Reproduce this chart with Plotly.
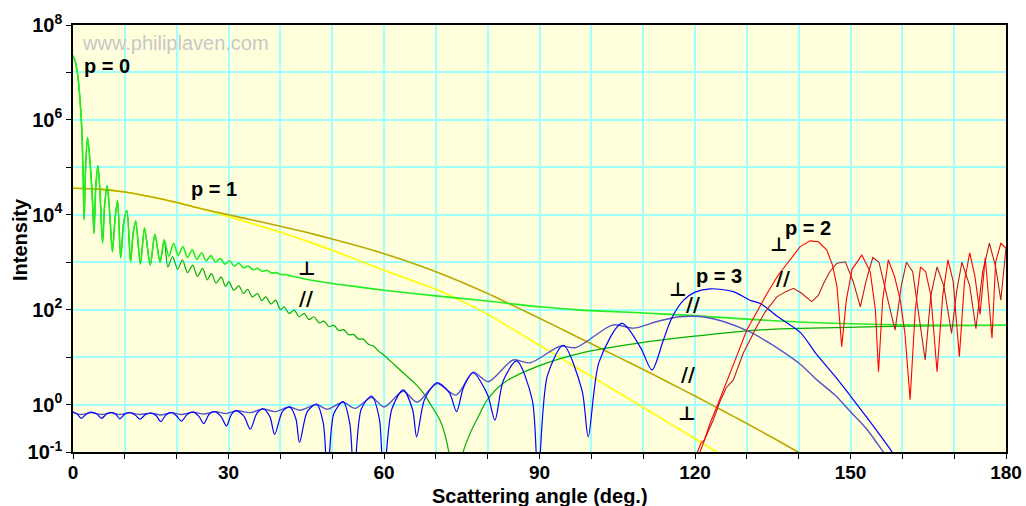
import plotly.graph_objects as go

# ---------------- data (angle in degrees, log10 of intensity) ----------------
p0_common_ang = [0, 0.5, 0.9, 1.3, 1.7, 2.0, 2.15, 2.4, 2.8, 3.3, 3.8, 4.05, 4.4, 4.8, 5.2, 5.7, 6.1, 6.6,
                 7.1, 7.6, 8.1, 8.6, 9.2, 9.8, 10.4, 11.1, 11.6, 12.1, 13.0, 13.8, 14.9, 15.8, 16.8, 17.6]
p0_common_log = [7.35, 7.2, 6.95, 6.5, 5.8, 4.6, 3.9, 4.9, 5.63, 5.1, 4.2, 3.61, 4.6, 5.03, 4.5, 3.40, 4.2, 4.61,
                 4.0, 3.22, 3.9, 4.30, 3.09, 3.85, 4.09, 3.01, 3.6, 3.87, 2.96, 3.72, 2.94, 3.59, 3.0, 3.47]

p0_perp_ang = [18.5, 19.4, 20.3, 21.2, 22.1, 23.0, 23.9, 24.8, 25.7, 26.6, 27.5, 28.4, 29.3, 30.2, 31.1, 32.0,
               32.9, 33.8, 34.7, 35.6, 36.5, 37.4, 38.3, 39.2, 40.1, 41, 42, 43, 45, 50, 55, 60, 70, 78.5, 90,
               98, 110, 119, 130, 145, 160, 180]
p0_perp_log = [3.12, 3.40, 3.14, 3.33, 3.10, 3.26, 3.06, 3.20, 3.03, 3.14, 3.00, 3.08, 2.96, 3.03, 2.92, 2.98,
               2.88, 2.92, 2.84, 2.87, 2.81, 2.83, 2.77, 2.78, 2.74, 2.74, 2.71, 2.69, 2.64, 2.55, 2.48, 2.41,
               2.29, 2.20, 2.06, 1.99, 1.93, 1.88, 1.80, 1.72, 1.68, 1.67]

p0_par_ang = [18.3, 19.2, 20.2, 21.1, 22.1, 23.1, 24.0, 25.0, 25.9, 26.7, 27.6, 28.6, 29.4, 30.1, 31.0, 32.0,
              32.9, 33.7, 34.6, 35.6, 36.4, 37.2, 38.2, 39.1, 40.0, 40.7, 41.7, 42.7, 43.6, 44.6, 45.5, 46.5,
              47.5, 48.4, 49.4, 50.3, 51.3, 52.2, 53.2, 54.1, 55.1, 56, 57, 58, 59, 60, 62, 64, 66, 67.6, 69,
              70.8, 71.8, 72.5, 73.5, 74.8, 75.3, 76.6, 78.5, 79.8, 83, 89.5, 99, 108.8, 119, 132, 151, 165, 180]
p0_par_log = [2.90, 3.12, 2.85, 3.05, 2.78, 2.94, 2.70, 2.87, 2.63, 2.76, 2.56, 2.69, 2.49, 2.59, 2.41, 2.50,
              2.34, 2.43, 2.27, 2.34, 2.19, 2.27, 2.12, 2.20, 2.00, 2.06, 1.92, 1.99, 1.85, 1.92, 1.79, 1.85,
              1.72, 1.76, 1.64, 1.67, 1.56, 1.58, 1.47, 1.48, 1.38, 1.38, 1.27, 1.23, 1.12, 1.04, 0.84, 0.64,
              0.44, 0.24, 0.0, -0.33, -0.65, -1.0, -1.8, -1.8, -1.0, -0.61, -0.19, 0.08, 0.45, 0.80, 1.11,
              1.29, 1.43, 1.57, 1.63, 1.66, 1.67]

p1_perp_ang = [0, 5, 10, 15, 20, 25, 28.8, 35, 40, 45, 50, 55, 60, 65, 70, 75, 80, 85, 90, 95, 100, 105, 110,
               115, 120, 125, 127]
p1_perp_log = [4.56, 4.54, 4.48, 4.38, 4.26, 4.12, 4.0, 3.80, 3.63, 3.45, 3.25, 3.04, 2.83, 2.63, 2.43, 2.18,
               1.90, 1.58, 1.25, 0.92, 0.59, 0.27, -0.06, -0.39, -0.72, -1.05, -1.15]

p1_par_ang = [0, 5, 10, 15, 20, 25, 30, 35, 40, 45, 50, 55, 60, 65, 70, 75, 80, 85, 90, 95, 100, 105, 110,
              115, 120, 125, 130, 135, 140, 142]
p1_par_log = [4.56, 4.54, 4.48, 4.38, 4.26, 4.12, 4.0, 3.88, 3.76, 3.63, 3.49, 3.34, 3.18, 3.0, 2.80, 2.58,
              2.34, 2.08, 1.82, 1.55, 1.28, 1.01, 0.74, 0.46, 0.18, -0.11, -0.40, -0.70, -1.01, -1.13]

p2_perp_ang = [120.3, 121.2, 121.8, 122.9, 124.2, 125.5, 126.8, 128.4, 130, 132, 133.9, 136, 138.4, 140.3,
               142.2, 143.8, 145.4, 146.5, 147.4, 148.3, 149.2, 150.3, 152.2, 153.8, 154.8, 155.4, 156.2,
               157.3, 158.5, 159.6, 160.5, 161.5, 162.5, 163.5, 164.5, 165.5, 166.7, 167.8, 168.8, 169.8,
               171, 172, 173, 174, 175, 176, 177.3, 178, 179, 180]
p2_perp_log = [-1.05, -0.8, -0.75, -0.40, -0.05, 0.3, 0.66, 1.12, 1.57, 1.98, 2.34, 2.72, 3.05, 3.33,
               3.45, 3.43, 3.26, 2.95, 2.48, 1.22, 2.2, 2.85, 3.15, 2.8, 2.0, 0.69, 2.2,
               3.05, 2.7, 2.2, 1.5, 0.1, 2.0, 2.9, 2.8, 2.3, 0.69, 2.3, 3.05, 2.6,
               1.01, 2.6, 3.2, 2.7, 1.9, 3.1, 1.4, 3.0, 3.4, 3.3]

p2_par_ang = [120.8, 122, 123.5, 124.8, 126, 127.4, 129.3, 131.9, 133.5, 135.8, 137.5, 139, 140.5, 142.5,
              143.8, 144.8, 146, 147.4, 149, 150.5, 151.9, 153, 154.3, 155.5, 157, 158.6, 159.8, 160.8, 162,
              163, 164.4, 165.5, 166.7, 168, 169.5, 170.5, 171.5, 173, 174.2, 175.5, 176.8, 178, 179, 180]
p2_par_log = [-1.05, -0.7, -0.33, 0.06, 0.35, 0.52, 1.08, 1.64, 1.95, 2.27, 2.38, 2.45, 2.35, 2.17,
              2.3, 2.55, 2.8, 2.98, 3.01, 2.6, 2.06, 2.6, 3.1, 3.0, 2.3, 1.57, 2.5, 3.0, 2.8,
              2.0, 0.94, 2.3, 2.9, 2.5, 1.5, 2.4, 3.0, 2.5, 1.6, 2.8, 3.4, 2.9, 2.2, 3.3]

p3_perp_ang = [0, 0.8, 1.6, 2.6, 3.5, 4.6, 5.5, 6.5, 7.4, 8.3, 9.0, 10.0, 10.9, 12.0, 12.9, 14.0, 15.1, 16.1,
               16.9, 18.0, 19.0, 20.0, 20.9, 22.1, 23.2, 24.3, 25.2, 26.3, 27.4, 28.6, 29.6, 30.6, 31.5, 33.0,
               34.2, 35.5, 36.7, 38.0, 38.9, 40.4, 41.8, 43.0, 43.7, 45.2, 47.0, 48.3, 49.1, 50.3, 52.1, 53.4,
               54.2, 55.6, 57.6, 59.1, 59.9, 61.5, 63.7, 65.5, 66.3, 67.8, 70.2, 72.6, 74, 75.3, 77.2, 80, 81.4,
               83, 85.6, 88.6, 89.7, 91.5, 94.6, 98.2, 99.4, 101.5, 105.9, 109.5, 111.7, 113.9, 115.5, 117.8,
               120, 123, 127.4, 130.6, 132.6, 136, 140.3, 143.5, 147, 150, 153, 158, 159]
p3_perp_log = [-0.15, -0.2, -0.29, -0.2, -0.16, -0.2, -0.29, -0.2, -0.17, -0.21, -0.30, -0.2, -0.17, -0.22,
               -0.31, -0.21, -0.18, -0.24, -0.36, -0.21, -0.17, -0.24, -0.35, -0.2, -0.16, -0.25, -0.40, -0.2,
               -0.15, -0.26, -0.45, -0.2, -0.13, -0.25, -0.52, -0.18, -0.09, -0.26, -0.63, -0.15, -0.05, -0.3,
               -0.80, -0.15, 0.01, -0.4, -1.6, -0.2, 0.06, -0.4, -1.6, -0.1, 0.18, -0.3, -1.6, -0.1, 0.31, -0.1,
               -0.68, 0.1, 0.46, 0.25, -0.15, 0.35, 0.67, 0.2, -0.33, 0.5, 0.92, 0.1, -1.6, 0.6, 1.25, 0.3,
               -0.68, 0.9, 1.71, 1.2, 0.73, 1.36, 1.82, 2.2, 2.37, 2.44, 2.38, 2.2, 2.13, 1.85, 1.52, 1.05,
               0.6, 0.18, -0.25, -1.0, -1.2]

p3_par_ang = [0, 1.6, 3.5, 5.5, 7.4, 9.0, 10.9, 12.9, 15.1, 16.9, 19.0, 20.9, 23.2, 25.2, 27.4, 29.6, 31.5,
              34.2, 36.7, 38.9, 41.8, 43.8, 47, 49, 52.1, 54.4, 57.6, 60, 63.7, 66.4, 70.2, 73.9, 77.2, 80.1,
              84.9, 88.2, 94, 97, 104.2, 108.1, 113, 117, 119.7, 122, 125.5, 130.6, 134, 137, 140.3, 143.5,
              147, 150, 153, 155.8, 157]
p3_par_log = [-0.17, -0.21, -0.17, -0.21, -0.17, -0.21, -0.17, -0.21, -0.18, -0.22, -0.17, -0.21, -0.16,
              -0.2, -0.15, -0.19, -0.13, -0.17, -0.09, -0.15, -0.05, -0.12, 0.0, -0.10, 0.05, -0.08, 0.15,
              -0.05, 0.28, 0.05, 0.44, 0.2, 0.68, 0.48, 0.94, 0.88, 1.23, 1.2, 1.68, 1.61, 1.76, 1.85, 1.86,
              1.84, 1.75, 1.53, 1.32, 1.11, 0.85, 0.52, 0.2, -0.15, -0.5, -0.92, -1.1]

x_tick_vals = [0, 10, 20, 30, 40, 50, 60, 70, 80, 90, 100, 110, 120, 130, 140, 150, 160, 170, 180]
x_tick_text = ["0", "", "", "30", "", "", "60", "", "", "90", "", "", "120", "", "", "150", "", "", "180"]
y_tick_exp = [-1, 0, 1, 2, 3, 4, 5, 6, 7, 8]
y_tick_shown = [-1, 0, 2, 4, 6, 8]

# ---------------- figure ----------------
def to_int(logs):
    return [10 ** v for v in logs]

fig = go.Figure()

def add(xs, ys, color, width, shape="linear"):
    fig.add_trace(go.Scatter(x=xs, y=to_int(ys), mode="lines",
                             line=dict(color=color, width=width, shape=shape, smoothing=0.8),
                             hoverinfo="skip", showlegend=False))

add(p1_perp_ang, p1_perp_log, "#FFFF00", 1.6, "spline")
add(p1_par_ang, p1_par_log, "#BBA800", 1.6, "spline")
add(p0_common_ang + p0_par_ang, p0_common_log + p0_par_log, "#00B000", 1.2, "spline")
add(p0_common_ang + p0_perp_ang, p0_common_log + p0_perp_log, "#22EE22", 1.6, "spline")
add(p3_par_ang, p3_par_log, "#5555C8", 1.4, "spline")
add(p3_perp_ang, p3_perp_log, "#0000FF", 1.2, "spline")
add(p2_par_ang, p2_par_log, "#C01818", 1.1)
add(p2_perp_ang, p2_perp_log, "#FF0000", 1.1)

FONT = "Liberation Sans, Arial, sans-serif"

fig.update_layout(
    width=1026, height=506,
    margin=dict(l=73, r=20, t=25, b=54, autoexpand=False),
    paper_bgcolor="white", plot_bgcolor="#FFFFDC",
    font=dict(family=FONT, color="black"),
)
fig.update_xaxes(range=[0, 180], tickvals=x_tick_vals, automargin=False,
                 ticktext=["<b>%s</b>" % t if t else " " for t in x_tick_text],
                 ticks="outside", ticklen=5, tickcolor="black", tickwidth=1.2, ticklabelstandoff=-3,
                 tickfont=dict(size=19, family=FONT),
                 showgrid=True, gridcolor="#A0FFFF", gridwidth=1.5,
                 showline=True, linecolor="black", linewidth=1.5, mirror=True, zeroline=False)
fig.update_yaxes(type="log", range=[-1, 8], tickvals=[10 ** e for e in y_tick_exp], automargin=False,
                 ticktext=["<b>10<sup>%d</sup></b>" % e if e in y_tick_shown else " " for e in y_tick_exp],
                 ticks="outside", ticklen=5, tickcolor="black", tickwidth=1.2,
                 tickfont=dict(size=20, family=FONT),
                 showgrid=True, gridcolor="#A0FFFF", gridwidth=1.5,
                 showline=True, linecolor="black", linewidth=1.5, mirror=True, zeroline=False)

def label(x, y, text, size=20, color="black", bold=True, family=FONT):
    fig.add_annotation(x=x, y=y, xref="x", yref="y", text=("<b>%s</b>" % text) if bold else text,
                       showarrow=False, font=dict(size=size, color=color, family=family),
                       xanchor="center", yanchor="middle")

label(19.7, 7.62, "www.philiplaven.com", size=20, color="#C8C8C8", bold=False)
label(6.5, 7.14, "p = 0")
label(27.2, 4.54, "p = 1")
label(141.8, 3.72, "p = 2")
label(124.7, 2.71, "p = 3")
PERP = "\u22A5"
for (ax, ay, t) in [(45.1, 2.88, PERP), (44.9, 2.25, "//"), (116.7, 2.44, PERP), (119.6, 2.12, "//"),
                    (118.7, 0.64, "//"), (118.3, -0.18, PERP), (136.2, 3.38, PERP), (137.0, 2.67, "//")]:
    label(ax, ay, t, size=19, family="DejaVu Sans, " + FONT, bold=True)

fig.add_annotation(xref="paper", yref="paper", x=0.5, y=-0.103, text="<b>Scattering angle (deg.)</b>",
                   showarrow=False, font=dict(size=20, family=FONT), xanchor="center", yanchor="middle")
fig.add_annotation(xref="paper", yref="paper", x=-0.0568, y=0.4965, text="<b>Intensity</b>", textangle=-90,
                   showarrow=False, font=dict(size=20, family=FONT), xanchor="center", yanchor="middle")

fig.write_html("out.html", config={"displayModeBar": False},
               post_script="document.body.style.margin='0px';document.body.style.overflow='hidden';")
